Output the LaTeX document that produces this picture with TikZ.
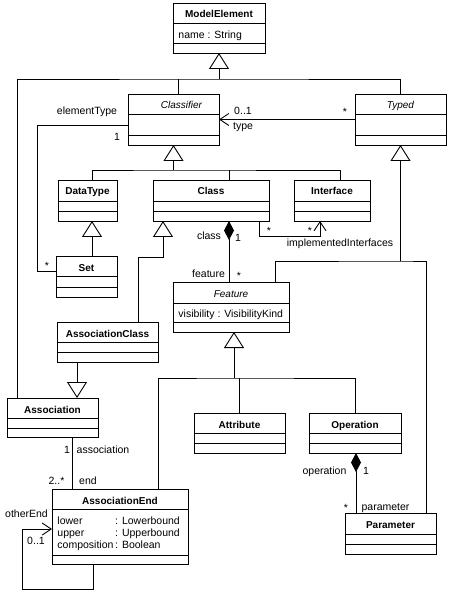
\documentclass[tikz,border=0pt]{standalone}
\usepackage{fontspec}
\setmainfont{Liberation Sans}
\usepackage{tikz}
\usetikzlibrary{arrows.meta, positioning, calc}

\begin{document}
\begin{tikzpicture}[
    x=1pt, y=-1pt,
    line width=0.9pt,
    font=\fontsize{10.5}{12}\selectfont,
    umlclass/.style={
        draw,
        anchor=north west,
        inner sep=0pt,
        outer sep=0pt
    },
    classname/.style={
        font=\bfseries,
        anchor=base
    },
    abstractname/.style={
        font=\itshape,
        anchor=base
    },
    attr/.style={
        anchor=base west,
        inner sep=0pt
    },
    role/.style={
        anchor=base,
        inner sep=0pt
    },
    gen/.style={-{Triangle[open, length=16pt, width=20pt]}},
    nav/.style={-{Straight Barb[length=9pt, width=12pt]}},
    comp/.style={{Diamond[length=19pt, width=10pt]}-}
]
\useasboundingbox (0,0) rectangle (450,593);

% Classes
\node[umlclass, minimum width=92pt, minimum height=50pt] (ME) at (173,3) {};
\node[umlclass, minimum width=91pt, minimum height=51pt] (CL) at (128,94) {};
\node[umlclass, minimum width=91pt, minimum height=51pt] (TY) at (355,94) {};
\node[umlclass, minimum width=59pt, minimum height=41pt] (DT) at (58,180) {};
\node[umlclass, minimum width=116pt, minimum height=41pt] (CS) at (153,180) {};
\node[umlclass, minimum width=76pt, minimum height=41pt] (IF) at (294,180) {};
\node[umlclass, minimum width=61pt, minimum height=41pt] (ST) at (56,256) {};
\node[umlclass, minimum width=116pt, minimum height=50pt] (FE) at (173,282) {};
\node[umlclass, minimum width=101pt, minimum height=40pt] (AC) at (57,322) {};
\node[umlclass, minimum width=91pt, minimum height=39pt] (AS) at (7,398) {};
\node[umlclass, minimum width=91pt, minimum height=40pt] (AT) at (194,413) {};
\node[umlclass, minimum width=92pt, minimum height=40pt] (OP) at (309,413) {};
\node[umlclass, minimum width=136pt, minimum height=75pt] (AE) at (52,489) {};
\node[umlclass, minimum width=91pt, minimum height=41pt] (PA) at (345,513) {};

% Compartments
\foreach \c/\a/\b in {ME/20/40, CL/20/41, TY/20/41, DT/21/31, CS/21/31, IF/21/31, ST/20/31,
                      FE/21/40, AC/20/30, AS/20/30, AT/20/30, OP/20/30, AE/20/66, PA/21/31}
    \draw ($(\c.north west)+(0,\a)$) -- ($(\c.north east)+(0,\a)$)
          ($(\c.north west)+(0,\b)$) -- ($(\c.north east)+(0,\b)$);

% Names
\foreach \c/\t in {ME/ModelElement, DT/DataType, CS/Class, IF/Interface, ST/Set,
                   AC/AssociationClass, AS/Association, AT/Attribute, OP/Operation,
                   AE/AssociationEnd, PA/Parameter}
    \node[classname] (\c-name) at ($(\c.north)+(0,15)$) {\t};
\node[abstractname] (CL-name) at ($(CL.north)+(8,15)$) {Classifier};
\node[abstractname] (TY-name) at ($(TY.north)+(0,15)$) {Typed};
\node[abstractname] (FE-name) at ($(FE.north)+(0,15)$) {Feature};

% Attributes
\node[attr] (ME-attr) at ($(ME.north west)+(5,36)$) {name : String};
\node[attr] (FE-attr) at ($(FE.north west)+(5,35)$) {visibility : VisibilityKind};
\node[attr] (AE-attr) at ($(AE.north west)+(5,35)$) {%
    \begin{tabular}[t]{@{}l@{\,}l@{}}
        lower & : Lowerbound\\
        upper & : Upperbound\\
        composition & : Boolean
    \end{tabular}};

% Generalizations
\coordinate (meBar) at ($(ME.south)+(0,26)$);
\draw[gen] (meBar) -- (ME.south);
\draw ($(AS.north west)+(10,0)$) |- (meBar) -| (TY.north);
\draw ($(CL.north)+(5,0)$) -- ($(CL.north)+(5,-15)$);

\coordinate (clBar) at ($(CL.south)+(0,25)$);
\draw[gen] (clBar) -- (CL.south);
\draw ($(DT.north west)+(34,0)$) |- (clBar) -| ($(IF.north west)+(46,0)$);
\draw ($(CS.north west)+(76,0)$) -- ($(CS.north west)+(76,-10)$);

\draw[gen] ($(ST.north west)+(36,0)$) -- ($(DT.south west)+(34,0)$);

\coordinate (acBend) at ($(CS.south west)+(10,36)$);
\draw[gen] ($(AC.north west)+(81,0)$) |- (acBend) -- ($(CS.south west)+(10,0)$);
\draw[gen] ($(AC.south west)+(20,0)$) -- ($(AS.north west)+(70,0)$);

\coordinate (tyBar) at ($(TY.south)+(0,116)$);
\draw[gen] (tyBar) -- (TY.south);
\draw ($(FE.north west)+(102,0)$) |- (tyBar) -| ($(PA.north west)+(81,0)$);

\coordinate (feBar) at ($(FE.south)+(3,46)$);
\draw[gen] (feBar) -- ($(FE.south)+(3,0)$);
\draw ($(AE.north west)+(106,0)$) |- (feBar) -| (OP.north);
\draw (AT.north) -- (AT.north |- feBar);

% Associations
\draw[nav] (TY.west) -- (CL.east);
\node[role] (typeMult) at (243,115) {0..1};
\node[role] (typeRole) at (243,130) {type};
\node[role] (typedMult) at (345,116) {*};

\draw ($(CL.north west)+(0,31)$) -| ($(ST.north west)+(-19,15)$) -- ($(ST.north west)+(0,15)$);
\node[role] (elemRole) at (87,115) {elementType};
\node[role] (elemMult) at (117,141) {1};
\node[role] (setMult) at (47,269) {*};

\draw[comp] ($(CS.south west)+(76,0)$) -- ($(FE.north west)+(56,0)$);
\node[role] (classRole) at (209,240) {class};
\node[role] (classMult) at (238,241) {1};
\node[role] (featRole) at (208.5,277) {feature};
\node[role] (featMult) at (239,279) {*};

\draw[nav] ($(CS.south west)+(106,0)$) -- ++(0,15) -| ($(IF.south west)+(26,0)$);
\node[role] (csMult) at (269,234) {*};
\node[role] (ifMult) at (310,234) {*};
\node[role] (ifRole) at (340,247) {implementedInterfaces};

\draw ($(AS.south west)+(65,0)$) -- ($(AE.north west)+(20,0)$);
\node[role] (assocMult) at (67,453) {1};
\node[role] (assocRole) at (103,453) {association};
\node[role] (endMult) at (56.5,484) {2..*};
\node[role] (endRole) at (88,484) {end};

\draw[nav] ($(AE.south west)+(41,0)$) |- ($(AE.north west)+(-30,100)$) |- ($(AE.north west)+(0,40)$);
\node[role] (otherRole) at (26.5,517) {otherEnd};
\node[role] (otherMult) at (36,544) {0..1};

\draw[comp] ($(OP.south west)+(47,0)$) -- ($(PA.north west)+(11,0)$);
\node[role] (opRole) at (324.5,474) {operation};
\node[role] (opMult) at (366,474) {1};
\node[role] (parMult) at (346,511) {*};
\node[role] (parRole) at (385.5,510) {parameter};

\end{tikzpicture}
\end{document}
